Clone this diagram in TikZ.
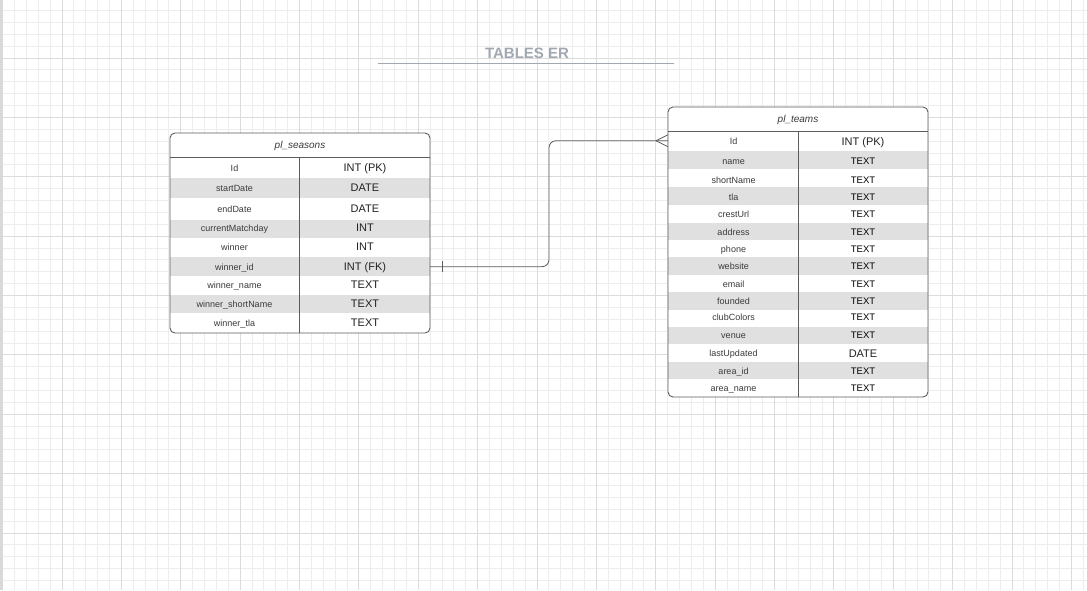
\documentclass[tikz,border=0pt]{standalone}
\usepackage{fontspec}
\setmainfont{Liberation Sans}
\definecolor{minorg}{HTML}{EDEDED}
\definecolor{majorg}{HTML}{DCDCDC}
\definecolor{shade}{HTML}{E0E0E0}
\definecolor{bordc}{HTML}{5C5C5C}
\definecolor{txtc}{HTML}{3A3A3A}
\definecolor{typec}{HTML}{222222}
\definecolor{titlec}{HTML}{A2A8B2}
\definecolor{barc}{HTML}{D9D9D9}
\begin{document}
\begin{tikzpicture}[x=1pt,y=-1pt,
  minorline/.style={draw=minorg, line width=0.9pt},
  majorline/.style={draw=majorg, line width=0.9pt},
  tbox/.style={draw=bordc, line width=0.9pt, rounded corners=5pt},
  inline/.style={draw=bordc, line width=0.8pt},
  rowshade/.style={fill=shade, draw=none},
  allt/.style={inner sep=0pt, text height=0.7em, text depth=0pt, yshift=-1pt},
  fname/.style={allt, font=\fontsize{9}{10}\selectfont, text=txtc},
  ftype/.style={allt, font=\fontsize{11}{12}\selectfont, text=typec},
  ftypesm/.style={allt, font=\fontsize{9.5}{10}\selectfont, text=black},
  thead/.style={allt, font=\fontsize{10}{12}\selectfont\itshape, text=txtc},
  conn/.style={draw=bordc, line width=0.8pt},
  ]
\useasboundingbox (0,0) rectangle (1087,590);
\fill[white] (0,0) rectangle (1087,590);
% grid
\foreach \i in {0,...,91} \draw[minorline] ({2.6+\i*11.875},0) -- ++(0,590);
\foreach \j in {0,...,50} \draw[minorline] (0,{-1.4+\j*11.875}) -- ++(1087,0);
\foreach \i in {0,...,18} \draw[majorline] ({2.6+\i*59.375},0) -- ++(0,590);
\foreach \j in {1,...,10} \draw[majorline] (0,{-1.4+\j*59.375}) -- ++(1087,0);
\fill[barc] (0,0) rectangle (3,590);

% title
\node[allt, font=\fontsize{15}{17}\selectfont\bfseries, text=titlec] (title) at (527,53.5) {TABLES ER};
\coordinate (tl) at (378,63.5);
\coordinate (tr) at (674,63.5);
\draw[draw=titlec, line width=1.6pt] (tl) -- (tr);

% ---------- pl_seasons ----------
\fill[white, rounded corners=5pt] (170,133) rectangle (430,333);
\foreach \a/\b in {178/198, 220/238, 257/276, 295/313}
  \fill[rowshade] (170,\a) rectangle (430,\b);
\draw[inline] (170,157) -- (430,157);
\draw[inline] (299,157) -- (299,333);
\draw[tbox] (170,133) rectangle (430,333);
\node[thead] (sh) at (300,144) {pl\_seasons};
\foreach \n/\t/\y [count=\i] in {Id/INT (PK)/167, startDate/DATE/187, endDate/DATE/208,
   currentMatchday/INT/227, winner/INT/246, winner\_id/INT (FK)/265.5,
   winner\_name/TEXT/284, winner\_shortName/TEXT/303, winner\_tla/TEXT/322}{
  \node[fname] (s-n\i) at (234.5,\y) {\n};
  \node[ftype] (s-t\i) at (365,\y) {\t};
}
\coordinate (sfk) at (430,266.7);

% ---------- pl_teams ----------
\fill[white, rounded corners=5pt] (668,107) rectangle (928,397);
\foreach \a/\b in {150.7/169, 187.3/205, 223/240, 257.3/275, 292.3/310, 327.3/344.3, 361.7/379.3}
  \fill[rowshade] (668,\a) rectangle (928,\b);
\draw[inline] (668,131) -- (928,131);
\draw[inline] (798.3,131) -- (798.3,397);
\draw[tbox] (668,107) rectangle (928,397);
\node[thead] (th) at (798,118) {pl\_teams};
\node[fname] (t-n1) at (733.5,140) {Id};
\node[ftype] (t-t1) at (863,140.5) {INT (PK)};
\foreach \n/\y [count=\i from 2] in {name/160, shortName/179, tla/196, crestUrl/213,
   address/230.5, phone/247.5, website/265, email/282.5, founded/299.5, clubColors/316,
   venue/334, lastUpdated/352, area\_id/370, area\_name/387}{
  \node[fname] (t-n\i) at (733.5,\y) {\n};
}
\foreach \y [count=\i from 2] in {160, 179, 196, 213, 230.5, 247.5, 265, 282.5, 299.5, 316, 334}{
  \node[ftypesm] (t-t\i) at (863,\y) {TEXT};
}
\node[ftype] (t-t13) at (863,352.5) {DATE};
\node[ftypesm] (t-t14) at (863,370) {TEXT};
\node[ftypesm] (t-t15) at (863,387) {TEXT};
\coordinate (tpk) at (668,140.7);

% ---------- relation ----------
\coordinate (mid) at (549,200);
\draw[conn, rounded corners=7pt] (sfk) -- (sfk -| mid) -- (tpk -| mid) -- (tpk);
% one bar at seasons end
\coordinate (bar) at (442.3,266.7);
\draw[conn] ([yshift=-5.5pt]bar) -- ([yshift=5.5pt]bar);
% crow's foot at teams end
\coordinate (cf) at (656,140.7);
\draw[conn] (cf) -- (668,134.7);
\draw[conn] (cf) -- (668,146.7);
\end{tikzpicture}
\end{document}
